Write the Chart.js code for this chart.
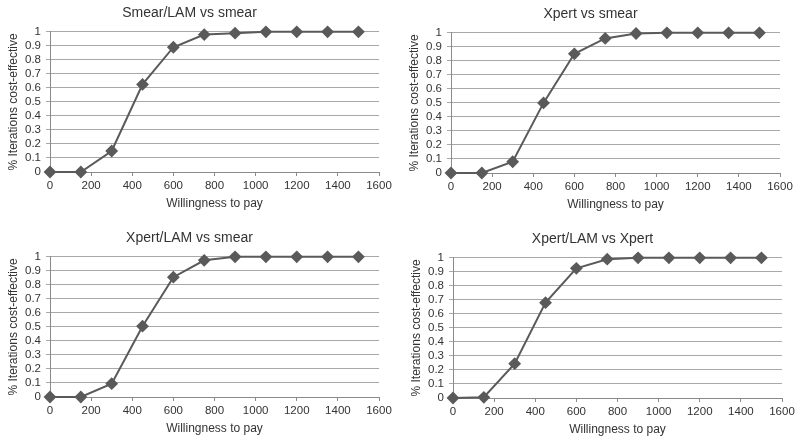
<!DOCTYPE html>
<html>
<head>
<meta charset="utf-8">
<script src="https://cdn.jsdelivr.net/npm/chart.js@4/dist/chart.umd.min.js"></script>
<style>
  html, body { margin: 0; padding: 0; background: #fff; width: 800px; height: 445px; overflow: hidden; }
  .panel { position: absolute; width: 400px; height: 222px; }
</style>
</head>
<body>
<div class="panel" style="left:0px;top:0px"><canvas id="c1" width="400" height="222"></canvas></div>
<div class="panel" style="left:401px;top:1px"><canvas id="c2" width="400" height="222"></canvas></div>
<div class="panel" style="left:0px;top:225px"><canvas id="c3" width="400" height="222"></canvas></div>
<div class="panel" style="left:403px;top:226px"><canvas id="c4" width="400" height="222"></canvas></div>
<script>
// willingness-to-pay steps (x) shared by all four panels
const wtp = [0, 150, 300, 450, 600, 750, 900, 1050, 1200, 1350, 1500];

const smearLamVsSmear = [0, 0, 0.15, 0.625, 0.89, 0.98, 0.99, 1, 1, 1, 1];
const xpertVsSmear = [0, 0, 0.08, 0.5, 0.85, 0.96, 0.995, 1, 1, 1, 1];
const xpertLamVsSmear = [0, 0, 0.095, 0.505, 0.855, 0.975, 1, 1, 1, 1, 1];
const xpertLamVsXpert = [0, 0.005, 0.245, 0.68, 0.925, 0.99, 1, 1, 1, 1, 1];

const panelTitles = ['Smear/LAM vs smear', 'Xpert vs smear', 'Xpert/LAM vs smear', 'Xpert/LAM vs Xpert'];
const xTitle = 'Willingness to pay';
const yTitle = '% Iterations cost-effective';

const ink = '#333333';
const lineColor = '#5a5a5a';
const gridColor = '#a8a8a8';
const axisColor = '#8a8a8a';
const fontFamily = '"Liberation Sans", Arial, sans-serif';

Chart.defaults.font.family = fontFamily;
Chart.defaults.color = ink;

const panels = [
  { id: 'c1', values: smearLamVsSmear },
  { id: 'c2', values: xpertVsSmear },
  { id: 'c3', values: xpertLamVsSmear },
  { id: 'c4', values: xpertLamVsXpert }
];

panels.forEach((panel, i) => drawPanel(panel, panelTitles[i]));

function drawPanel(panel, title) {
  const points = wtp.map((x, k) => ({ x, y: panel.values[k] }));

  new Chart(document.getElementById(panel.id), {
    type: 'line',
    data: {
      datasets: [{
        data: points,
        borderColor: lineColor,
        backgroundColor: lineColor,
        borderWidth: 2,
        pointStyle: 'rectRot',
        pointRadius: 5,
        pointBackgroundColor: lineColor,
        pointBorderColor: lineColor,
        tension: 0,
        clip: false
      }]
    },
    options: {
      responsive: false,
      animation: false,
      devicePixelRatio: 1,
      layout: { padding: { left: 0, right: 21, top: 0, bottom: 0 } },
      plugins: {
        legend: { display: false },
        tooltip: { enabled: false },
        title: {
          display: true,
          text: title,
          color: ink,
          font: { size: 14, weight: 'normal' },
          padding: { top: 5, bottom: 10 }
        }
      },
      scales: {
        x: {
          type: 'linear',
          min: 0,
          max: 1600,
          ticks: {
            stepSize: 200,
            padding: 3,
            color: ink,
            font: { size: 11.5 },
            maxRotation: 0,
            autoSkip: false,
            callback: (v) => String(v)
          },
          grid: { drawOnChartArea: false, drawTicks: true, tickLength: 4, color: axisColor },
          border: { display: true, color: axisColor, width: 1 },
          title: { display: true, text: xTitle, color: ink, font: { size: 12 }, padding: { top: 0, bottom: 11 } },
          afterFit: (scale) => { scale.height = 50; }
        },
        y: {
          min: 0,
          max: 1,
          ticks: {
            stepSize: 0.1,
            padding: 5,
            color: ink,
            font: { size: 11.5 },
            autoSkip: false,
            callback: (v) => String(Number(v.toFixed(1)))
          },
          grid: { color: gridColor, drawTicks: true, tickLength: 4 },
          border: { display: true, color: axisColor, width: 1 },
          title: { display: true, text: yTitle, color: ink, font: { size: 12 }, padding: { top: 6, bottom: 0 } },
          afterFit: (scale) => { scale.width = 50; }
        }
      }
    }
  });
}
</script>
</body>
</html>
